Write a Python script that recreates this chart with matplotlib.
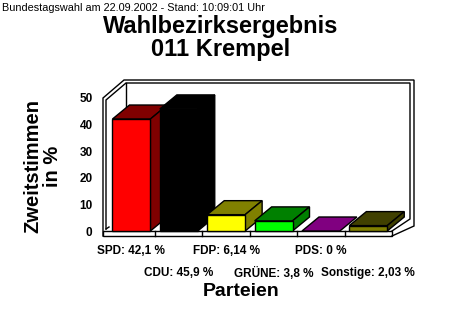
import matplotlib
matplotlib.use("Agg")
import matplotlib.pyplot as plt
from matplotlib.patches import Polygon, Rectangle

parteien = ["SPD", "CDU", "FDP", "GRÜNE", "PDS", "Sonstige"]
stimmen = [42.1, 45.9, 6.14, 3.8, 0.0, 2.03]
stimmen_text = ["42,1", "45,9", "6,14", "3,8", "0", "2,03"]
front_farben = ["#ff0000", "#000000", "#ffff00", "#00ff00", "#800080", "#808000"]
seiten_farben = ["#800000", "#000000", "#808000", "#008000", "#800080", "#404000"]
y_ticks = [0, 10, 20, 30, 40, 50]

plt.rcParams['font.family'] = ['Liberation Sans', 'DejaVu Sans']

W, H = 460, 313
fig = plt.figure(figsize=(W / 100, H / 100), dpi=100)
fig.patch.set_facecolor("white")

# plot area in pixels (origin top left)
L, R, T, B = 103, 392, 98, 231
xmin, xmax = -0.6, 5.5

# background box (walls + floor), pixel coordinates
deco = fig.add_axes([0, 0, 1, 1], zorder=0)
deco.set_xlim(0, W)
deco.set_ylim(H, 0)
deco.axis("off")

lw = 1.0
outer = [(L, B + 5), (L, T), (L + 21, T - 18), (R + 22, T - 18),
         (R + 22, B - 5), (R, B + 5)]
inner = [(L + 3, B - 2), (L + 3, T + 2), (L + 23, T - 15), (R + 18, T - 15),
         (R + 18, B - 12), (R, B)]
deco.plot(*zip(*outer), color="black", lw=lw, solid_joinstyle="miter")
deco.plot(*zip(*inner), color="black", lw=lw, solid_joinstyle="miter")
deco.plot([L + 23, L + 23], [T - 15, B - 14], color="black", lw=lw)
deco.plot([L + 3, L + 6], [B - 2, B - 4], color="black", lw=lw)
deco.add_patch(Rectangle((L, B), R - L, 5, facecolor="white",
                         edgecolor="black", lw=lw))

# main axes for the bars
ax = fig.add_axes([L / W, 1 - B / H, (R - L) / W, (B - T) / H], zorder=1)
ax.set_xlim(xmin, xmax)
ax.set_ylim(0, 50)
ax.patch.set_facecolor("none")
for s in ax.spines.values():
    s.set_visible(False)
ax.set_xticks([])
ax.set_yticks(y_ticks)
ax.tick_params(axis="y", length=0, pad=7.5)
for t in ax.get_yticklabels():
    t.set_fontweight("bold")
    t.set_fontsize(8.5)

# floor separators between categories
px_x = (R - L) / (xmax - xmin)
px_y = (B - T) / 50.0
sep_h = 5 / px_y
for i in range(len(parteien) - 1):
    ax.plot([i + 0.5, i + 0.5], [0, -sep_h], color="black", lw=lw,
            clip_on=False, zorder=1)

# 3d bars
bw = 0.8
dx = 17 / px_x
dy = 14 / px_y
for i, (v, fc, sc) in enumerate(zip(stimmen, front_farben, seiten_farben)):
    x0, x1 = i - bw / 2, i + bw / 2
    top = Polygon([(x0, v), (x1, v), (x1 + dx, v + dy), (x0 + dx, v + dy)],
                  closed=True, facecolor=sc, edgecolor="black", lw=lw,
                  clip_on=False, zorder=2 + i)
    ax.add_patch(top)
    if v > 0:
        side = Polygon([(x1, 0), (x1 + dx, dy), (x1 + dx, v + dy), (x1, v)],
                       closed=True, facecolor=sc, edgecolor="black", lw=lw,
                       clip_on=False, zorder=2 + i)
        front = Rectangle((x0, 0), bw, v, facecolor=fc, edgecolor="black",
                          lw=lw, clip_on=False, zorder=2 + i)
        ax.add_patch(side)
        ax.add_patch(front)

# category labels in two rows
for i, (p, s) in enumerate(zip(parteien, stimmen_text)):
    yrow = -0.150 if i % 2 == 0 else -0.318
    ax.text(i, yrow, f"{p}: {s} %", transform=ax.get_xaxis_transform(),
            ha="center", va="center", fontsize=8.5, fontweight="bold")

ax.set_xlabel("Parteien", fontsize=14, fontweight="bold")
ax.xaxis.set_label_coords((241 - L) / (R - L), (B - 292) / (B - T))
ax.xaxis.label.set_va("center")
ax.set_ylabel("Zweitstimmen\nin %", fontsize=14.5, fontweight="bold",
              linespacing=1.05)
ax.yaxis.set_label_coords((43 - L) / (R - L), (B - 166) / (B - T))
ax.yaxis.label.set_va("center")

fig.text(220.5 / W, 1 - 33 / H, "Wahlbezirksergebnis", ha="center",
         va="baseline", fontsize=17, fontweight="bold")
fig.text(220.5 / W, 1 - 56 / H, "011 Krempel", ha="center",
         va="baseline", fontsize=17, fontweight="bold")
fig.text(2 / W, 1 - 11 / H, "Bundestagswahl am 22.09.2002 - Stand: 10:09:01 Uhr",
         ha="left", va="baseline", fontsize=7.8)

fig.savefig("out.png", dpi=100, facecolor="white")
